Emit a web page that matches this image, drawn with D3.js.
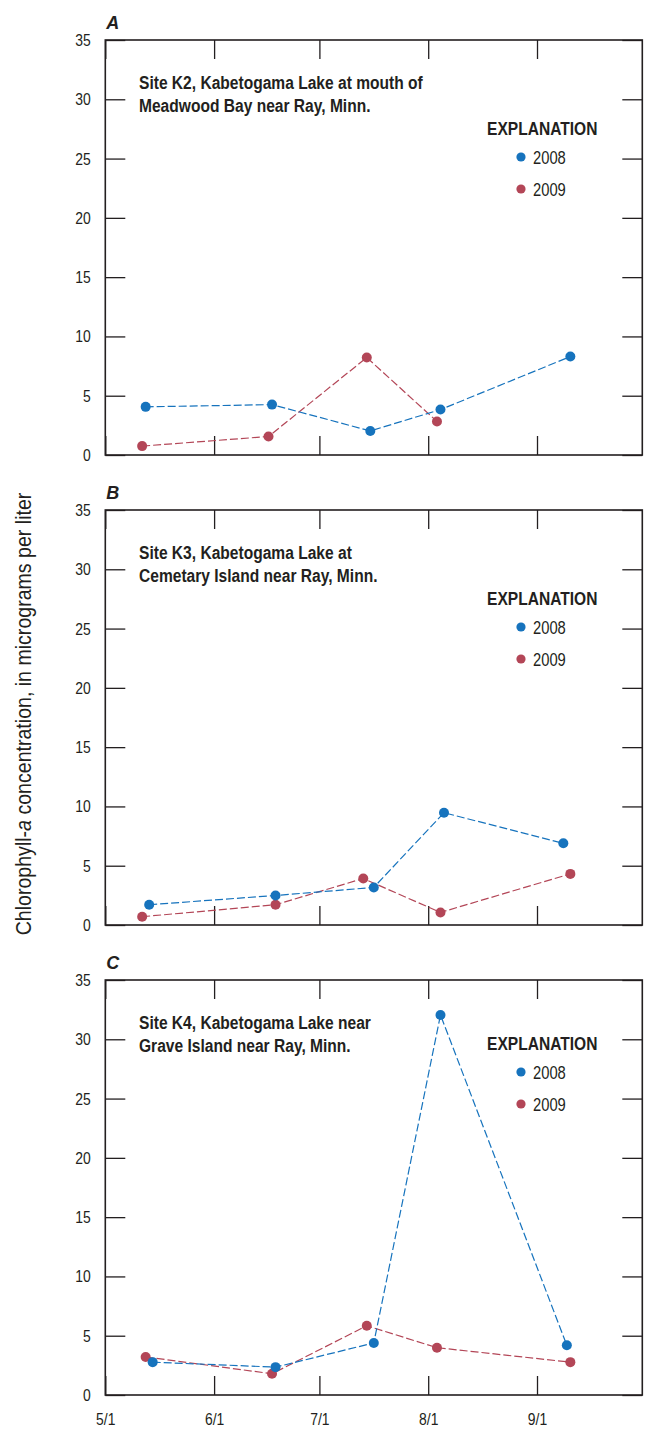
<!DOCTYPE html>
<html>
<head>
<meta charset="utf-8">
<script src="https://cdn.jsdelivr.net/npm/d3@7"></script>
<style>
  html, body { margin: 0; padding: 0; background: #fff; }
  svg { display: block; }
  text { font-family: "Liberation Sans", Arial, sans-serif; fill: #231f20; }
</style>
</head>
<body>
<svg id="chart" width="646" height="1429"></svg>
<script>
// ---------- DATA ----------
const monthTicks = ["5/1", "6/1", "7/1", "8/1", "9/1"];
const xDomain = ["5/1", "10/1"];
const yTicks = [0, 5, 10, 15, 20, 25, 30, 35];
const years = ["2008", "2009"];
const panelLetters = ["A", "B", "C"];
const siteTitles = [
  ["Site K2, Kabetogama Lake at mouth of", "Meadwood Bay near Ray, Minn."],
  ["Site K3, Kabetogama Lake at", "Cemetary Island near Ray, Minn."],
  ["Site K4, Kabetogama Lake near", "Grave Island near Ray, Minn."]
];
const legendTitle = "EXPLANATION";
const yAxisTitle = ["Chlorophyll-", "a", " concentration, in micrograms per liter"];

// Site K2
const k2Dates2008 = ["5/12", "6/17", "7/15", "8/4", "9/10"];
const k2Chl2008   = [4.06, 4.25, 2.03, 3.83, 8.30];
const k2Dates2009 = ["5/11", "6/16", "7/14", "8/3"];
const k2Chl2009   = [0.75, 1.56, 8.22, 2.83];
// Site K3
const k3Dates2008 = ["5/13", "6/18", "7/16", "8/5", "9/8"];
const k3Chl2008   = [1.71, 2.49, 3.17, 9.47, 6.89];
const k3Dates2009 = ["5/11", "6/18", "7/13", "8/4", "9/10"];
const k3Chl2009   = [0.70, 1.71, 3.92, 1.06, 4.31];
// Site K4
const k4Dates2008 = ["5/14", "6/18", "7/16", "8/4", "9/9"];
const k4Chl2008   = [2.77, 2.35, 4.39, 32.05, 4.19];
const k4Dates2009 = ["5/12", "6/17", "7/14", "8/3", "9/10"];
const k4Chl2009   = [3.21, 1.79, 5.84, 3.99, 2.77];

// ---------- LAYOUT / STYLE ----------
const colors = { "2008": "#1673bd", "2009": "#b34657" };
const plotLeft = 105.3, plotRight = 642.3, plotH = 415;
const panelTops = [40, 510, 980];
const legendOffsets = [0, 0, -25];
const inkColor = "#231f20";
const narrow = 0.82; // condensed typeface look

const parseMD = s => d3.utcParse("%m/%d/%Y")(s + "/2001");

const panels = [
  { s2008: [k2Dates2008, k2Chl2008], s2009: [k2Dates2009, k2Chl2009] },
  { s2008: [k3Dates2008, k3Chl2008], s2009: [k3Dates2009, k3Chl2009] },
  { s2008: [k4Dates2008, k4Chl2008], s2009: [k4Dates2009, k4Chl2009] }
];

const svg = d3.select("#chart");

function ctext(sel, x, y, str, size, weight, anchor) {
  return sel.append("text")
    .attr("transform", `translate(${x},${y}) scale(${narrow},1)`)
    .attr("text-anchor", anchor || "start")
    .style("font-size", size + "px")
    .style("font-weight", weight || "normal")
    .text(str);
}

const x = d3.scaleUtc()
  .domain(xDomain.map(parseMD))
  .range([plotLeft, plotRight]);
const xPoint = d => x(d3.utcHour.offset(d, 12));

const monthDates = monthTicks.map(parseMD);

panels.forEach((p, i) => {
  const top = panelTops[i];
  const y = d3.scaleLinear().domain([0, 35]).range([top + plotH, top]);
  const g = svg.append("g");

  // panel letter
  g.append("text")
    .attr("x", plotLeft + 1)
    .attr("y", top - 11)
    .style("font-size", "18px")
    .style("font-weight", "bold")
    .style("font-style", "italic")
    .text(panelLetters[i]);

  // left axis with labels (ticks inward)
  const yl = g.append("g").attr("transform", `translate(${plotLeft},0)`)
    .call(d3.axisLeft(y).tickValues(yTicks).tickSizeInner(-20).tickSizeOuter(0).tickPadding(14.5 / narrow));
  yl.select(".domain").remove();
  yl.selectAll("line").attr("stroke", inkColor).attr("stroke-width", 1.3);
  yl.selectAll("text").style("font-size", "17px").attr("fill", inkColor)
    .style("font-family", '"Liberation Sans", Arial, sans-serif')
    .attr("transform", `scale(${narrow},1)`);

  // right axis (ticks inward)
  const yr = g.append("g").attr("transform", `translate(${plotRight},0)`)
    .call(d3.axisRight(y).tickValues(yTicks).tickSizeInner(-20).tickSizeOuter(0).tickFormat(""));
  yr.select(".domain").remove();
  yr.selectAll("line").attr("stroke", inkColor).attr("stroke-width", 1.3);

  // top axis
  const xt = g.append("g").attr("transform", `translate(0,${top})`)
    .call(d3.axisTop(x).tickValues(monthDates).tickSizeInner(-19).tickSizeOuter(0).tickFormat(""));
  xt.select(".domain").remove();
  xt.selectAll("line").attr("stroke", inkColor).attr("stroke-width", 1.3);

  // bottom axis
  const xb = g.append("g").attr("transform", `translate(0,${top + plotH})`)
    .call(d3.axisBottom(x).tickValues(monthDates).tickSizeInner(-19).tickSizeOuter(0).tickPadding(18)
      .tickFormat((d, j) => i === 2 ? monthTicks[j] : ""));
  xb.select(".domain").remove();
  xb.selectAll("line").attr("stroke", inkColor).attr("stroke-width", 1.3);
  xb.selectAll("text").style("font-size", "17px").attr("fill", inkColor)
    .style("font-family", '"Liberation Sans", Arial, sans-serif')
    .attr("transform", `scale(${narrow},1)`);

  // frame
  g.append("rect")
    .attr("x", plotLeft).attr("y", top)
    .attr("width", plotRight - plotLeft).attr("height", plotH)
    .attr("fill", "none").attr("stroke", inkColor).attr("stroke-width", 1.6);

  // site title
  siteTitles[i].forEach((line, k) => {
    ctext(g, 139, top + 48.5 + k * 23.5, line, 19, "bold");
  });

  // series
  const line = d3.line().x(d => xPoint(d.date)).y(d => y(d.v));
  ["2009", "2008"].forEach(yr => {
    const [dates, vals] = p["s" + yr];
    const data = dates.map((d, k) => ({ date: parseMD(d), v: vals[k] }));
    g.append("path")
      .datum(data)
      .attr("d", line)
      .attr("fill", "none")
      .attr("stroke", colors[yr])
      .attr("stroke-width", 1.2)
      .attr("stroke-dasharray", "8,3");
    g.selectAll(null).data(data).enter().append("circle")
      .attr("cx", d => xPoint(d.date))
      .attr("cy", d => y(d.v))
      .attr("r", 5)
      .attr("fill", colors[yr]);
  });

  // legend
  const ly = top + 88 + legendOffsets[i];
  ctext(g, 487, ly + 7, legendTitle, 19, "bold");
  years.forEach((yr, k) => {
    const cy = ly + 29 + k * 32;
    g.append("circle").attr("cx", 521).attr("cy", cy).attr("r", 4.6).attr("fill", colors[yr]);
    ctext(g, 533, cy + 6.5, yr, 18, "normal");
  });
});

// y axis title
const yt = svg.append("text")
  .attr("transform", `translate(31,714) rotate(-90) scale(0.89,1)`)
  .attr("text-anchor", "middle")
  .style("font-size", "22px");
yt.append("tspan").text(yAxisTitle[0]);
yt.append("tspan").style("font-style", "italic").text(yAxisTitle[1]);
yt.append("tspan").text(yAxisTitle[2]);
</script>
</body>
</html>
